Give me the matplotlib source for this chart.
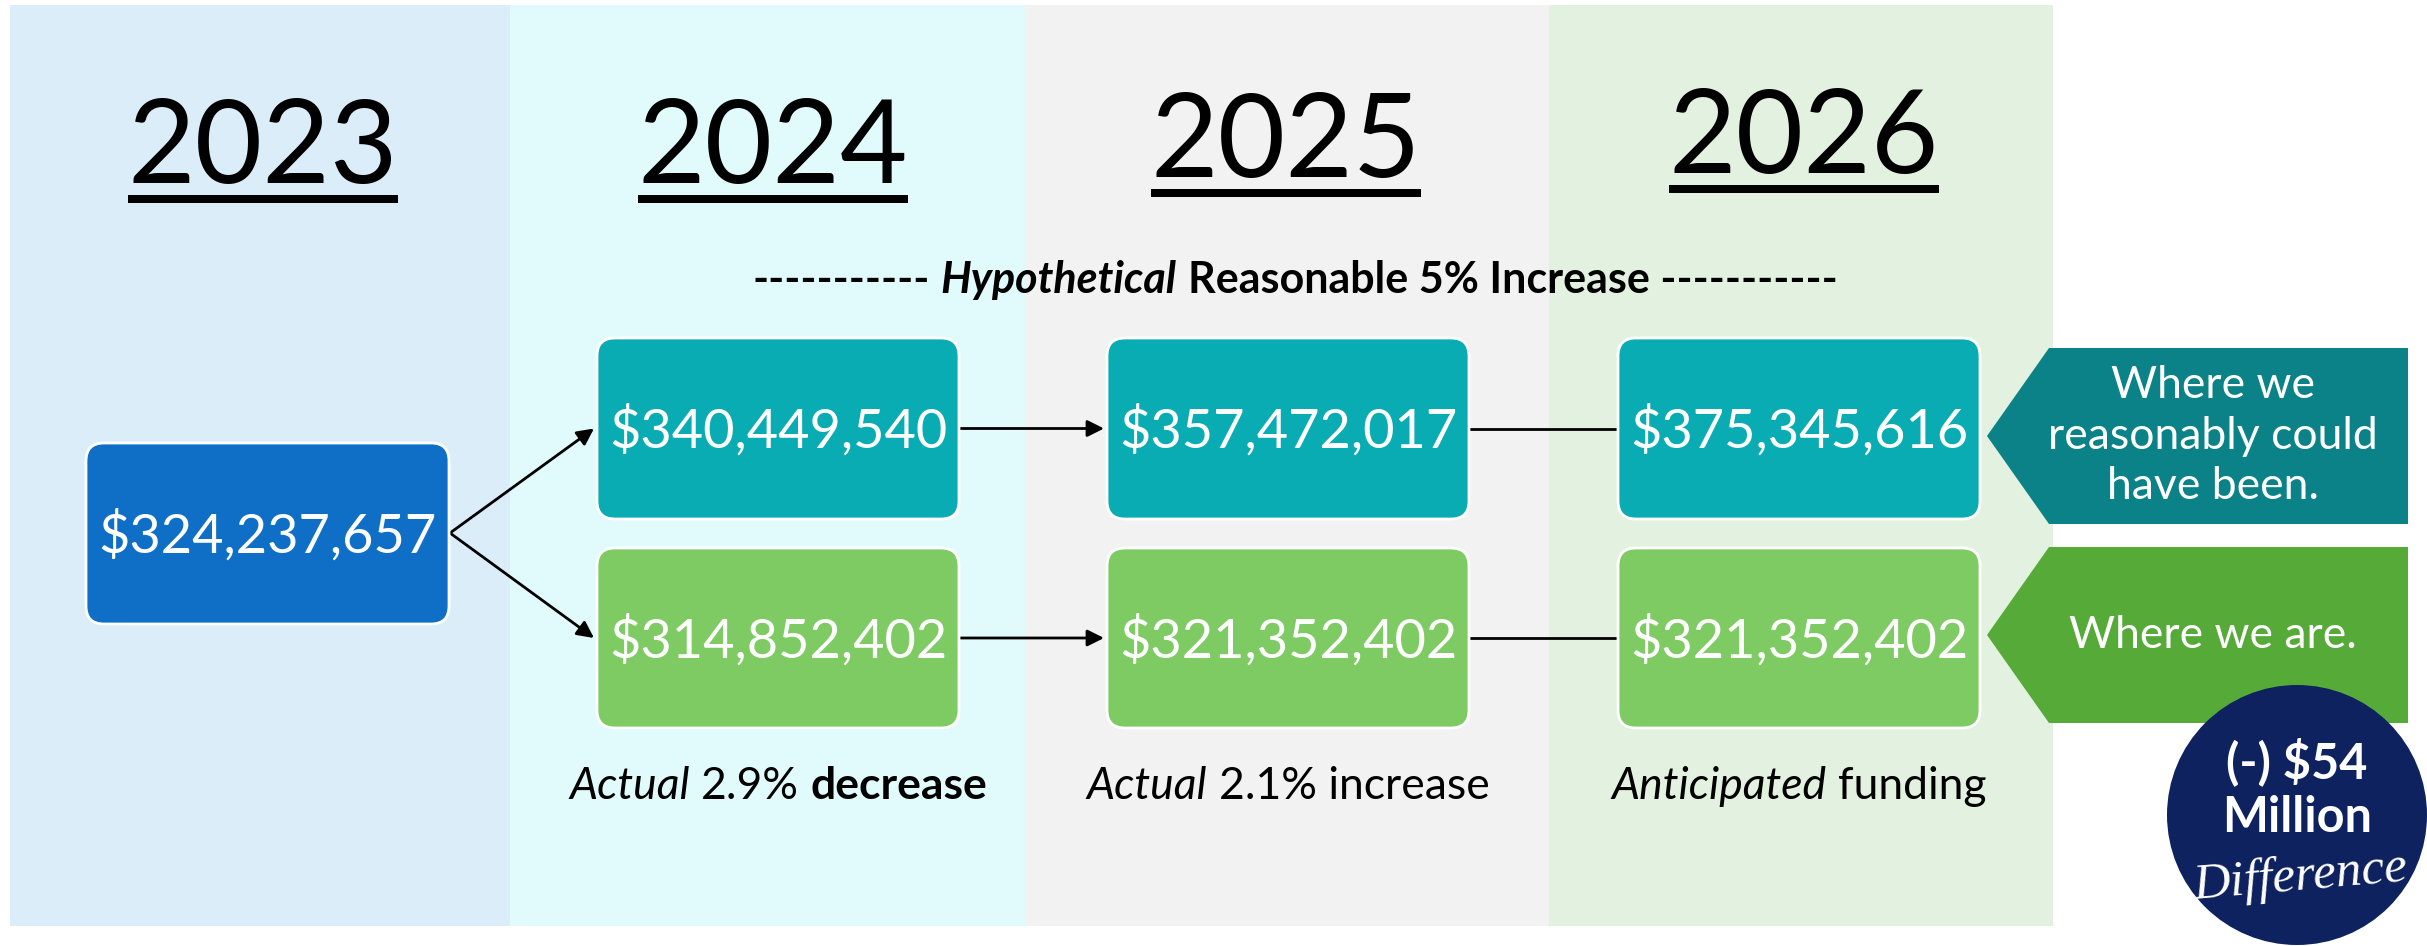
import matplotlib.pyplot as plt
from matplotlib.patches import Rectangle, FancyBboxPatch, Polygon, Circle

years = ['2023', '2024', '2025', '2026']
start_amount = 324237657
hypothetical = [340449540, 357472017, 375345616]
actual = [314852402, 321352402, 321352402]
captions = [
    [('Actual', 'italic', 'normal'), ('2.9%', 'normal', 'normal'), ('decrease', 'normal', 'bold')],
    [('Actual', 'italic', 'normal'), ('2.1% increase', 'normal', 'normal')],
    [('Anticipated', 'italic', 'normal'), ('funding', 'normal', 'normal')],
]
headline = [('-----------', 'normal', 'bold'), ('Hypothetical', 'italic', 'bold'),
            ('Reasonable 5% Increase -----------', 'normal', 'bold')]
callouts = ['Where we\nreasonably could\nhave been.', 'Where we are.']

FONT = 'Lato'

# layout (pixel coordinates)
panel_edges = [10, 510, 1026, 1549, 2053]
panel_colors = ['#DCEDFA', '#E1FBFC', '#F2F2F2', '#E3F2E0']
year_x = [263, 773, 1286, 1804]
year_base = [183, 183, 177, 173]
col_left = [597, 1107, 1618]
box_w = 362
top_row = (338, 519)
bot_row = (548, 728)

fig = plt.figure(figsize=(24.27, 9.46), dpi=100)
ax = fig.add_axes([0, 0, 1, 1])
ax.set_xlim(0, 2427)
ax.set_ylim(946, 0)
ax.axis('off')
renderer = fig.canvas.get_renderer()


def rich_text(x, y, parts, size, color='black'):
    texts = []
    for s, style, weight in parts:
        texts.append(ax.text(0, y, s, fontsize=size, style=style, weight=weight,
                             family=FONT, color=color, va='baseline', ha='left'))
    a = ax.text(0, y, 'x x', fontsize=size, family=FONT)
    b = ax.text(0, y, 'xx', fontsize=size, family=FONT)
    gap = a.get_window_extent(renderer).width - b.get_window_extent(renderer).width
    a.remove()
    b.remove()
    widths = [t.get_window_extent(renderer).width for t in texts]
    cur = x - (sum(widths) + gap * (len(texts) - 1)) / 2
    for t, w in zip(texts, widths):
        t.set_x(cur)
        cur += w + gap


def box(x0, x1, y0, y1, color, label):
    ax.add_patch(FancyBboxPatch((x0, y0), x1 - x0, y1 - y0,
                                boxstyle='round,pad=0,rounding_size=18',
                                fc=color, ec='white', lw=2, zorder=3))
    ax.text((x0 + x1) / 2, (y0 + y1) / 2 + 2, f'${label:,}', color='white',
            fontsize=39, family=FONT, ha='center', va='center', zorder=4)


# background panels
for i, c in enumerate(panel_colors):
    ax.add_patch(Rectangle((panel_edges[i], 5), panel_edges[i + 1] - panel_edges[i], 921,
                           fc=c, ec='none', zorder=0))

# year headers with underline
for x, yb, yr in zip(year_x, year_base, years):
    t = ax.text(x, yb, yr, fontsize=84, family=FONT, ha='center', va='baseline')
    w = t.get_window_extent(renderer).width
    ax.add_patch(Rectangle((x - w / 2, yb + 12), w, 8, fc='black', ec='none'))

rich_text(1295, 293, headline, 31)

# boxes
box(86, 449, 443, 624, '#0F6FC6', start_amount)
for i in range(3):
    box(col_left[i], col_left[i] + box_w, *top_row, '#0AACB4', hypothetical[i])
    box(col_left[i], col_left[i] + box_w, *bot_row, '#7ECB63', actual[i])

# connectors
ymid_top = sum(top_row) / 2
ymid_bot = sum(bot_row) / 2
arrow = dict(arrowstyle='-|>', color='black', lw=2, mutation_scale=25, shrinkA=0, shrinkB=0)
for yt in (ymid_top, ymid_bot):
    ax.annotate('', xy=(col_left[0] - 3, yt), xytext=(450, 533), arrowprops=arrow, zorder=2)
    ax.annotate('', xy=(col_left[1] - 3, yt), xytext=(col_left[0] + box_w, yt),
                arrowprops=arrow, zorder=2)
    ax.plot([col_left[1] + box_w, col_left[2]], [yt, yt], color='black', lw=2, zorder=2)

# captions
for i, parts in enumerate(captions):
    rich_text(col_left[i] + box_w / 2, 799, parts, 32)

# callouts
for (y0, y1), c, txt in zip([(348, 524), (547, 723)], ['#0B8287', '#56AA38'], callouts):
    ax.add_patch(Polygon([(1987, (y0 + y1) / 2), (2049, y0), (2408, y0), (2408, y1), (2049, y1)],
                         closed=True, fc=c, ec='none', zorder=3))
    ax.text(2213, (y0 + y1) / 2, txt, color='white', fontsize=32, family=FONT,
            ha='center', va='center', linespacing=1.3, zorder=4)

# difference badge
diff = round((hypothetical[-1] - actual[-1]) / 1e6)
ax.add_patch(Circle((2297, 815), 130, fc='#0E2260', ec='none', zorder=5))
ax.text(2297, 762, f'(-) ${diff}', color='white', fontsize=35, weight='bold',
        family=FONT, ha='center', va='center', zorder=6)
ax.text(2297, 817, 'Million', color='white', fontsize=35, weight='bold',
        family=FONT, ha='center', va='center', zorder=6)
ax.text(2300, 877, 'Difference', color='white', fontsize=37, style='italic',
        family='Liberation Serif', ha='center', va='center', rotation=5, zorder=6)

fig.savefig('out.png', dpi=100)
